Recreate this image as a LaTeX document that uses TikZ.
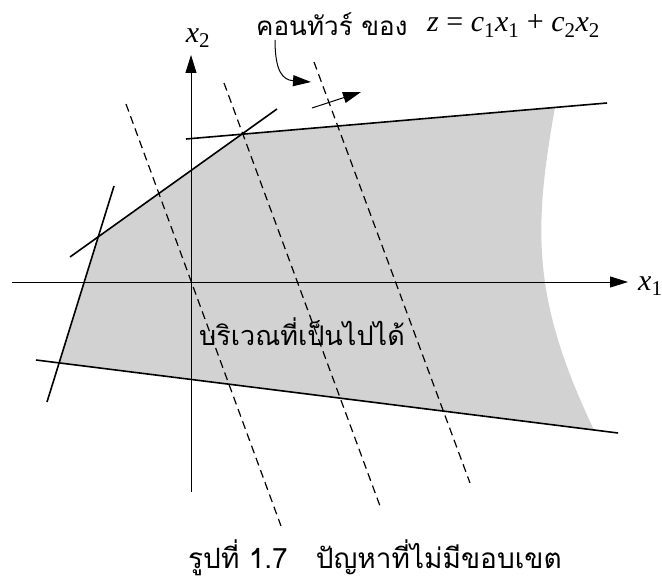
\documentclass[tikz,border=0pt]{standalone}
\usepackage{fontspec}
\setmainfont{Liberation Serif}
\newfontfamily\thaifont[Script=Thai]{Loma}
\usetikzlibrary{arrows.meta}
\definecolor{feasgray}{RGB}{210,210,210}
\newcommand{\var}[2]{\textit{#1}\textsubscript{#2}}

\begin{document}
\begin{tikzpicture}[x=1pt, y=-1pt,
    axis/.style={-{Triangle[length=18pt, width=11pt]}, line width=0.9pt},
    bound/.style={line width=1.6pt},
    contour/.style={dash pattern=on 8pt off 5pt, line width=1.2pt},
    arrow/.style={-{Triangle[length=18pt, width=11pt]}, line width=1pt},
    thai/.style={font=\thaifont\fontsize{26}{30}\selectfont, inner sep=0pt},
    lbl/.style={font=\fontsize{30}{34}\selectfont, inner sep=0pt}
  ]
  \useasboundingbox (0,0) rectangle (662,580);

  % constraint lines
  \coordinate (s1) at (114,186); \coordinate (s2) at (47,402);
  \coordinate (t1) at (70,257);  \coordinate (t2) at (277,109);
  \coordinate (h1) at (186,139); \coordinate (h2) at (607,103);
  \coordinate (b1) at (36,360);  \coordinate (b2) at (618,433);

  % feasible region
  \fill[feasgray] (intersection of s1--s2 and b1--b2)
    -- (intersection of s1--s2 and t1--t2)
    -- (intersection of t1--t2 and h1--h2)
    -- (555,107.4) .. controls (533,230) and (532,300) .. (594,430) -- cycle;

  \draw[bound] (s1) -- (s2);
  \draw[bound] (t1) -- (t2);
  \draw[bound] (h1) -- (h2);
  \draw[bound] (b1) -- (b2);

  % contours of z
  \foreach \xa/\ya/\xb/\yb in {126/104/281/526, 224/83/380/506, 314/62/470/483}
    \draw[contour] (\xa,\ya) -- (\xb,\yb);

  % axes
  \coordinate (o1) at (12,282);  \coordinate (e1) at (628,282);
  \coordinate (o2) at (191,492); \coordinate (e2) at (191,55);
  \draw[axis] (o1) -- (e1);
  \draw[axis] (o2) -- (e2);
  \node[lbl, anchor=west] (x1lbl) at (638,286) {\var{x}{1}};
  \node[lbl] (x2lbl) at (198,38) {\var{x}{2}};

  % labels
  \node[thai, anchor=west] (contourlbl) at (256,24) {คอนทัวร์ ของ};
  \node[lbl, anchor=west] (zeq) at (427,26) {\textit{z} = \var{c}{1}\var{x}{1} + \var{c}{2}\var{x}{2}};
  \node[thai, font=\thaifont\fontsize{27}{30}\selectfont, anchor=base west] (feas) at (199,345) {บริเวณที่เป็นไปได้};
  \node[thai, font=\thaifont\fontsize{28}{32}\selectfont, anchor=base west] (caption) at (188,568) {รูปที่ 1.7\quad ปัญหาที่ไม่มีขอบเขต};

  \coordinate (cstart) at (275,40);
  \coordinate (cend) at (311,82);
  \draw[arrow] (cstart) .. controls (275,72) and (283,80) .. (cend);
  \coordinate (dstart) at (312,108);
  \coordinate (dend) at (361,92);
  \draw[arrow] (dstart) -- (dend);
\end{tikzpicture}
\end{document}
